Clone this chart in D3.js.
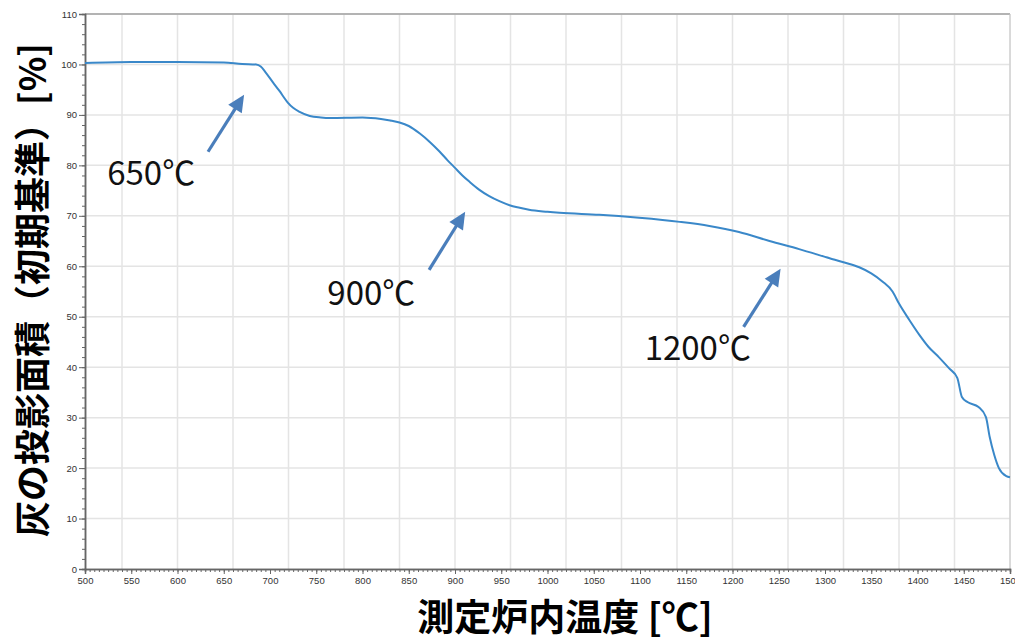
<!DOCTYPE html>
<html><head><meta charset="utf-8">
<script src="https://cdn.jsdelivr.net/npm/d3@7"></script>
<style>
html,body{margin:0;padding:0;background:#fff;}
svg{display:block;}
</style></head>
<body>
<svg id="c" width="1015" height="642"></svg>
<script>
// ---- data ----
const tempC = [500, 550, 600, 650, 670, 685, 690, 695, 703, 710, 719, 725, 732, 743, 755, 765, 800, 820, 830, 840, 850, 862, 873, 883, 892, 900, 908, 916, 926, 937, 948, 959, 970, 980, 1000, 1013, 1056, 1099, 1143, 1175, 1207, 1240, 1272, 1305, 1320, 1337, 1350, 1362, 1373, 1380, 1391, 1402, 1412, 1423, 1434, 1443, 1448, 1454, 1466, 1474, 1478, 1483, 1488, 1496, 1500];
const areaPct = [100.3, 100.5, 100.5, 100.4, 100.1, 100.0, 99.6, 98.5, 96.5, 94.8, 92.5, 91.4, 90.6, 89.8, 89.5, 89.4, 89.5, 89.2, 88.9, 88.5, 87.8, 86.3, 84.6, 82.8, 81.0, 79.5, 78.0, 76.7, 75.2, 73.9, 72.9, 72.1, 71.6, 71.2, 70.8, 70.6, 70.2, 69.6, 68.8, 68.0, 66.8, 65.0, 63.4, 61.6, 60.8, 59.8, 58.6, 57.0, 55.0, 52.6, 49.4, 46.4, 44.0, 42.0, 39.8, 37.9, 34.1, 33.1, 32.1, 30.1, 26.2, 22.6, 20.0, 18.4, 18.2];
const xTicks = d3.range(500, 1501, 50);
const yTicks = d3.range(0, 111, 10);
const xGrid = d3.range(540, 1501, 60);
const annLabels = ["650℃", "900℃", "1200℃"];
const annTip = [[672, 94.0], [911, 70.8], [1252, 59.5]];
const annTail = [[633, 82.7], [872, 59.3], [1212, 48.0]];
const annText = [[524, 76.1], [762, 52.3], [1105, 41.4]];
const yTitle = "灰の投影面積（初期基準）[%]";
const xTitle = "測定炉内温度 [℃]";

// ---- chart ----
const svg = d3.select("#c");
const L = 85, R = 1010, T = 14, B = 569;
const x = d3.scaleLinear().domain([500, 1500]).range([L, R]);
const y = d3.scaleLinear().domain([0, 110]).range([B, T]);

const g = svg.append("g");
// grid
g.selectAll(".hg").data(yTicks.slice(1)).join("line")
  .attr("x1", L).attr("x2", R).attr("y1", d => y(d)).attr("y2", d => y(d))
  .attr("stroke", "#e4e4e4").attr("stroke-width", 1.5);
g.selectAll(".vg").data(xGrid).join("line")
  .attr("x1", d => x(d)).attr("x2", d => x(d)).attr("y1", T).attr("y2", B)
  .attr("stroke", "#e4e4e4").attr("stroke-width", 1.5);
// frame top/right
g.append("line").attr("x1", L).attr("x2", R).attr("y1", T).attr("y2", T).attr("stroke", "#a0a0a0").attr("stroke-width", 1.5);
g.append("line").attr("x1", R).attr("x2", R).attr("y1", T).attr("y2", B).attr("stroke", "#c8c8c8").attr("stroke-width", 1);

// axes
const xAxis = d3.axisBottom(x).tickValues(xTicks).tickSize(5).tickPadding(3).tickFormat(d3.format("d"));
const xMinor = d3.axisBottom(x).tickValues(d3.range(500, 1501, 5)).tickSize(3).tickFormat("");
const yAxis = d3.axisLeft(y).tickValues(yTicks).tickSize(6).tickPadding(2).tickFormat(d3.format("d"));
const yMinor = d3.axisLeft(y).tickValues(d3.range(0, 111, 2)).tickSize(3).tickFormat("");

function styleAxis(sel) {
  sel.select(".domain").attr("stroke", "#666").attr("stroke-width", 1.5);
  sel.selectAll(".tick line").attr("stroke", "#666");
  sel.selectAll("text").attr("fill", "#333").style("font-family", "Liberation Sans, Arial, sans-serif").style("font-size", "9.5px");
}
g.append("g").attr("transform", `translate(0,${B})`).call(xMinor).call(styleAxis);
g.append("g").attr("transform", `translate(0,${B})`).call(xAxis).call(styleAxis);
g.append("g").attr("transform", `translate(${L},0)`).call(yMinor).call(styleAxis);
g.append("g").attr("transform", `translate(${L},0)`).call(yAxis).call(styleAxis);

// curve
const pts = tempC.map((t, i) => [t, areaPct[i]]);
g.append("path").datum(pts)
  .attr("fill", "none").attr("stroke", "#3a88c9").attr("stroke-width", 2)
  .attr("d", d3.line().x(d => x(d[0])).y(d => y(d[1])).curve(d3.curveMonotoneX));

// annotations
const arrowCol = "#4a7ebb";
annLabels.forEach((lab, i) => {
  const tx = x(annTip[i][0]), ty = y(annTip[i][1]);
  const sx = x(annTail[i][0]), sy = y(annTail[i][1]);
  const dx = tx - sx, dy = ty - sy, len = Math.hypot(dx, dy);
  const ux = dx / len, uy = dy / len;
  const hl = 17, hw = 8;
  const bx = tx - ux * hl, by = ty - uy * hl;
  g.append("line").attr("x1", sx).attr("y1", sy).attr("x2", bx + ux * 2).attr("y2", by + uy * 2)
    .attr("stroke", arrowCol).attr("stroke-width", 3.2);
  g.append("polygon")
    .attr("points", [[tx, ty], [bx - uy * hw, by + ux * hw], [bx + uy * hw, by - ux * hw]].map(p => p.join(",")).join(" "))
    .attr("fill", arrowCol);
  g.append("text").attr("x", x(annText[i][0])).attr("y", y(annText[i][1]))
    .attr("fill", "#111").style("font-family", "Noto Sans CJK JP, sans-serif").style("font-size", "33px")
    .text(lab);
});

// titles
svg.append("text").attr("transform", "translate(46,290) rotate(-90)")
  .attr("text-anchor", "middle").attr("fill", "#000")
  .style("font-family", "Noto Sans CJK JP, sans-serif").style("font-weight", "bold").style("font-size", "36px")
  .text(yTitle);
svg.append("text").attr("x", 565).attr("y", 631)
  .attr("text-anchor", "middle").attr("fill", "#000")
  .style("font-family", "Noto Sans CJK JP, sans-serif").style("font-weight", "bold").style("font-size", "37px")
  .text(xTitle);
</script>
</body></html>
